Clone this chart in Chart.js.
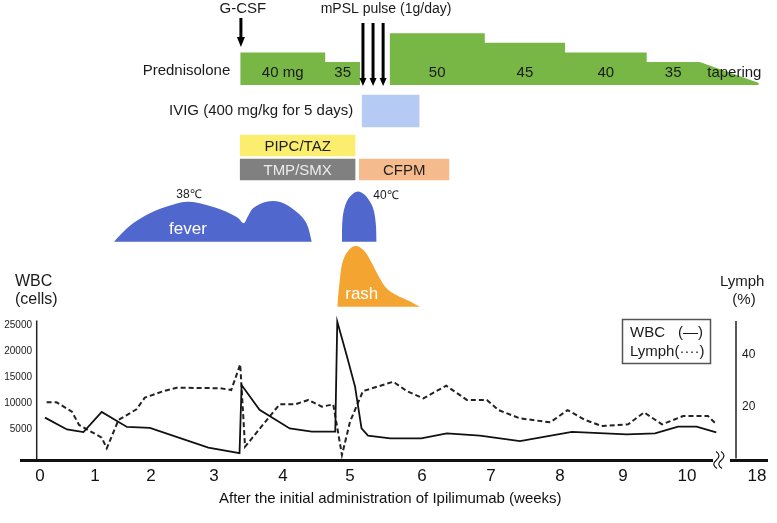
<!DOCTYPE html>
<html>
<head>
<meta charset="utf-8">
<script src="https://cdn.jsdelivr.net/npm/chart.js@4.4.1/dist/chart.umd.min.js"></script>
<style>
  html, body { margin: 0; padding: 0; background: #fff; }
  canvas { display: block; }
</style>
</head>
<body>
<canvas id="chart" width="777" height="523"></canvas>
<script>
// weeks after the first Ipilimumab dose
const tickWeeks = [0, 1, 2, 3, 4, 5, 6, 7, 8, 9, 10, 18];
const wbcTicks = [5000, 10000, 15000, 20000, 25000];
const lymphTicks = [20, 40];

// white blood cells (cells/uL)
const wbcWeeks = [0.09, 0.49, 0.79, 1.12, 1.57, 1.98, 2.91, 3.37, 3.40, 3.66,
  4.10, 4.43, 4.78, 4.81, 4.95, 5.07, 5.16, 5.25, 5.56, 5.99,
  6.36, 6.84, 7.42, 8.19, 9.06, 9.50, 9.86, 10.15, 10.46];
const wbcCount = [7200, 4900, 4400, 8300, 5400, 5200, 1400, 300, 13500, 8700,
  5100, 4500, 4500, 25800, 19300, 13200, 5100, 3700, 3200, 3200,
  4150, 3700, 2650, 4450, 3950, 4150, 5450, 5450, 4350];

// lymphocytes (%)
const lymphWeeks = [0.12, 0.30, 0.58, 0.71, 1.12, 1.21, 1.42, 1.74, 1.89, 2.20,
  2.41, 3.09, 3.25, 3.38, 3.45, 3.95, 4.18, 4.38, 4.58, 4.75,
  4.88, 5.00, 5.18, 5.60, 5.79, 6.02, 6.35, 6.65, 6.94, 7.11,
  7.42, 7.86, 8.12, 8.40, 8.66, 9.08, 9.33, 9.61, 9.94, 10.33, 10.46];
const lymphPct = [21.7, 21.7, 18.1, 13.0, 8.1, 4.0, 14.9, 19.0, 23.5, 26.0,
  27.3, 27.1, 26.4, 36.3, 4.6, 20.9, 20.9, 22.6, 20.0, 20.9,
  1.4, 14.2, 26.0, 29.6, 26.0, 23.2, 28.1, 22.6, 22.6, 18.7,
  15.5, 14.0, 18.7, 14.9, 12.6, 13.2, 17.8, 13.2, 16.4, 16.4, 13.3];

// prednisolone (mg/day)
const predStart = [3.38, 4.63, 5.55, 6.91, 8.08, 9.37];
const predEnd = [4.63, 5.14, 6.91, 8.08, 9.37, 10.20];
const predDose = [40, 35, 50, 45, 40, 35];
const taperEndWeek = 19.7;

const gcsfWeek = 3.39;
const mpslWeeks = [5.18, 5.32, 5.46];

const ivigStart = 5.17, ivigEnd = 5.96;
const drugNames = ['PIPC/TAZ', 'TMP/SMX', 'CFPM'];
const drugStart = [3.38, 3.38, 5.13];
const drugEnd = [5.07, 5.07, 6.39];

// body temperature (deg C), null = afebrile gap
const feverWeeks = [1.34, 1.45, 1.68, 1.98, 2.25, 2.57, 2.88, 3.18, 3.35, 3.43, 3.49, 3.57,
  3.76, 3.96, 4.20, 4.35, 4.43, 4.65, 4.88, 4.89, 4.95, 5.05, 5.13, 5.23, 5.32, 5.36, 5.37];
const feverTemp = [37.0, 37.17, 37.46, 37.71, 37.88, 38.0, 37.92, 37.75, 37.59, 37.46, 37.63, 37.84,
  38.0, 37.99, 37.75, 37.46, 37.0, null, 37.0, 37.59, 38.0, 39.68, 40.0, 39.0, 37.84, 37.42, 37.0];

// rash intensity (relative)
const rashWeeks = [4.81, 4.84, 4.89, 4.98, 5.08, 5.19, 5.28, 5.39, 5.51, 5.65, 5.83, 5.97];
const rashLevel = [0, 0.36, 0.74, 0.93, 1.0, 0.93, 0.77, 0.52, 0.30, 0.19, 0.09, 0];

// ---- layout: value -> canvas pixel anchors for each scale ----
const anchors = {
  x: [[0, 40], [1, 95], [2, 151], [3, 214], [4, 283], [5, 350], [6, 422], [7, 491],
      [8, 560], [9, 623], [10, 687], [10.55, 722], [18, 757]],
  wbc: [[0, 454.8], [25000, 325.7]],
  lymph: [[0, 458.7], [40, 354.7]],
  pred: [[0, 85], [35, 62], [50, 33.3]],
  rows: [[0, 111], [1, 145.5], [2, 169.5]],
  fever: [[37, 241.7], [38, 201.7], [40, 191.7]],
  rash: [[0, 306.7], [1, 246]]
};
const drugLane = [1, 2, 2];
const drugColor = ['#fbee6f', '#808080', '#f6bb8c'];
const drugText = ['#1e1e1e', '#ececec', '#1e1e1e'];
const SANS = "'Liberation Sans', Arial, sans-serif";
const NARROW = "'Liberation Sans Narrow', 'Arial Narrow', 'Liberation Sans', sans-serif";

class AnchorScale extends Chart.LinearScale {
  getPixelForValue(value) {
    if (value === null || value === undefined || isNaN(value)) return NaN;
    const a = anchors[this.id];
    let i = 1;
    while (i < a.length - 1 && value > a[i][0]) i++;
    const [v0, p0] = a[i - 1], [v1, p1] = a[i];
    return p0 + (value - v0) * (p1 - p0) / (v1 - v0);
  }
  getValueForPixel(pixel) {
    const a = anchors[this.id];
    const up = a[a.length - 1][1] > a[0][1];
    let i = 1;
    while (i < a.length - 1 && (up ? pixel > a[i][1] : pixel < a[i][1])) i++;
    const [v0, p0] = a[i - 1], [v1, p1] = a[i];
    return v0 + (pixel - p0) * (v1 - v0) / (p1 - p0);
  }
}
AnchorScale.id = 'anchor';
AnchorScale.defaults = Chart.LinearScale.defaults;
Chart.register(AnchorScale);

const zip = (xs, ys) => xs.map((x, i) => ({ x, y: ys[i] }));

// stepped prednisolone band, with a gap during the mPSL pulse
const predPoints = [];
predStart.forEach((s, i) => {
  if (i > 0 && s > predEnd[i - 1]) predPoints.push({ x: (s + predEnd[i - 1]) / 2, y: null });
  predPoints.push({ x: s, y: predDose[i] }, { x: predEnd[i], y: predDose[i] });
});
predPoints.push({ x: taperEndWeek, y: 0 });

function text(ctx, s, x, y, size, opt = {}) {
  ctx.save();
  ctx.font = (opt.weight || 'normal') + ' ' + size + 'px ' + (opt.family || SANS);
  ctx.fillStyle = opt.color || '#1a1a1a';
  ctx.textAlign = opt.align || 'center';
  ctx.textBaseline = 'middle';
  ctx.fillText(s, x, y);
  ctx.restore();
}

function arrow(ctx, x, y0, y1, headH, headW) {
  ctx.save();
  ctx.strokeStyle = ctx.fillStyle = '#000';
  ctx.lineWidth = 3;
  ctx.beginPath();
  ctx.moveTo(x, y0);
  ctx.lineTo(x, y1 - headH + 1);
  ctx.stroke();
  ctx.beginPath();
  ctx.moveTo(x - headW / 2, y1 - headH);
  ctx.lineTo(x + headW / 2, y1 - headH);
  ctx.lineTo(x, y1);
  ctx.closePath();
  ctx.fill();
  ctx.restore();
}

const decorations = {
  id: 'decorations',
  afterDatasetsDraw(chart) {
    const { ctx, scales } = chart;
    const px = v => scales.x.getPixelForValue(v);
    const bottom = chart.chartArea.bottom + 1.5;

    // y axes
    ctx.save();
    ctx.strokeStyle = '#222';
    ctx.lineWidth = 1.5;
    ctx.beginPath();
    ctx.moveTo(36.7, scales.wbc.getPixelForValue(26000));
    ctx.lineTo(36.7, bottom);
    ctx.moveTo(736, scales.lymph.getPixelForValue(53));
    ctx.lineTo(736, bottom - 2);
    ctx.stroke();

    // broken baseline
    ctx.lineWidth = 3;
    ctx.strokeStyle = '#111';
    ctx.beginPath();
    ctx.moveTo(20, bottom);
    ctx.lineTo(713, bottom);
    ctx.moveTo(730, bottom);
    ctx.lineTo(768, bottom);
    ctx.stroke();
    ctx.lineWidth = 1.2;
    [716, 721].forEach(bx => {
      ctx.beginPath();
      ctx.moveTo(bx, bottom - 9);
      ctx.quadraticCurveTo(bx + 6, bottom - 5, bx, bottom);
      ctx.quadraticCurveTo(bx - 5, bottom + 4, bx + 1, bottom + 8);
      ctx.stroke();
    });
    ctx.restore();

    wbcTicks.forEach(v => text(ctx, String(v), 32, scales.wbc.getPixelForValue(v), 10, { align: 'right' }));
    lymphTicks.forEach(v => text(ctx, String(v), 742, scales.lymph.getPixelForValue(v), 12, { align: 'left' }));

    text(ctx, 'WBC', 15, 282, 16, { align: 'left' });
    text(ctx, '(cells)', 15, 300, 16, { align: 'left' });
    text(ctx, 'Lymph', 720, 282, 15, { align: 'left' });
    text(ctx, '(%)', 744, 300, 15);

    // legend box
    ctx.save();
    ctx.strokeStyle = '#555';
    ctx.lineWidth = 1.5;
    ctx.strokeRect(622.5, 319.5, 88, 44);
    ctx.restore();
    text(ctx, 'WBC', 630, 333, 15, { align: 'left' });
    text(ctx, '(\u2014)', 678, 333, 15, { align: 'left' });
    text(ctx, 'Lymph(\u00b7\u00b7\u00b7\u00b7)', 630, 352, 15, { align: 'left' });

    // drugs and events above the chart
    const gx = px(gcsfWeek);
    text(ctx, 'G-CSF', gx + 2, 9, 15);
    arrow(ctx, gx, 18, 47, 10, 8);

    const mx = mpslWeeks.map(px);
    mx.forEach(x => arrow(ctx, x, 23, 86, 8, 7));
    text(ctx, 'mPSL pulse (1g/day)', mx.reduce((a, b) => a + b) / mx.length + 13, 9, 14);

    text(ctx, 'Prednisolone', px(predStart[0]) - 10, 71, 15, { align: 'right' });
    predDose.forEach((d, i) => {
      const cx = (px(predStart[i]) + px(predEnd[i])) / 2;
      text(ctx, i === 0 ? d + ' mg' : String(d), cx, 73, 15);
    });
    text(ctx, 'tapering', (px(predEnd[predEnd.length - 1]) + px(taperEndWeek)) / 2 + 2, 73, 15);

    const ivig = chart.getDatasetMeta(1).data[0];
    text(ctx, 'IVIG (400 mg/kg for 5 days)', Math.min(ivig.x, ivig.base) - 9, ivig.y, 15, { align: 'right' });
    chart.getDatasetMeta(2).data.forEach((bar, i) => {
      text(ctx, drugNames[i], (bar.x + bar.base) / 2, bar.y + 1, 15, { color: drugText[i] });
    });

    // fever labels at the peak of each febrile episode
    const gap = feverTemp.indexOf(null);
    const peak = (from, to) => {
      let k = from;
      for (let i = from; i < to; i++) if (feverTemp[i] > feverTemp[k]) k = i;
      return k;
    };
    const p1 = peak(0, gap), p2 = peak(gap + 1, feverTemp.length);
    const fy = t => scales.fever.getPixelForValue(t);
    text(ctx, feverTemp[p1].toFixed(0) + '\u2103', px(feverWeeks[p1]) + 2, fy(feverTemp[p1]) - 7, 12);
    text(ctx, feverTemp[p2].toFixed(0) + '\u2103', px(feverWeeks[p2]) + 14, fy(feverTemp[p2]) + 4, 12, { align: 'left' });
    text(ctx, 'fever', px(feverWeeks[p1]) + 1, fy(37) - 12, 17, { color: '#fff' });
    const rp = rashLevel.indexOf(Math.max(...rashLevel));
    text(ctx, 'rash', px(rashWeeks[rp]) + 6, scales.rash.getPixelForValue(0) - 12, 17, { color: '#fff' });
  }
};

Chart.defaults.font.family = SANS;
Chart.defaults.color = '#1a1a1a';

const hidden = axis => ({ type: 'anchor', axis, display: false });

new Chart(document.getElementById('chart'), {
  type: 'line',
  data: {
    datasets: [
      {
        label: 'Prednisolone', data: predPoints, yAxisID: 'pred',
        borderWidth: 0, pointRadius: 0, tension: 0,
        backgroundColor: '#78b746', fill: { value: 0 }, clip: false
      },
      {
        type: 'bar', label: 'IVIG', indexAxis: 'y', xAxisID: 'x', yAxisID: 'rows',
        data: [{ x: [ivigStart, ivigEnd], y: 0 }],
        backgroundColor: '#b5cbf3', barThickness: 32, grouped: false, clip: false
      },
      {
        type: 'bar', label: 'Antibiotics', indexAxis: 'y', xAxisID: 'x', yAxisID: 'rows',
        data: drugNames.map((n, i) => ({ x: [drugStart[i], drugEnd[i]], y: drugLane[i] })),
        backgroundColor: drugColor, barThickness: 21, grouped: false, clip: false
      },
      {
        label: 'fever', data: zip(feverWeeks, feverTemp), yAxisID: 'fever',
        borderWidth: 0, pointRadius: 0, tension: 0.35,
        backgroundColor: '#5068cd', fill: { value: 37 }, clip: false
      },
      {
        label: 'rash', data: zip(rashWeeks, rashLevel), yAxisID: 'rash',
        borderWidth: 0, pointRadius: 0, tension: 0.35,
        backgroundColor: '#f4a430', fill: { value: 0 }, clip: false
      },
      {
        label: 'WBC', data: zip(wbcWeeks, wbcCount), yAxisID: 'wbc',
        borderColor: '#111', borderWidth: 1.8, pointRadius: 0, tension: 0, fill: false
      },
      {
        label: 'Lymph', data: zip(lymphWeeks, lymphPct), yAxisID: 'lymph',
        borderColor: '#222', borderWidth: 2, borderDash: [5, 3], pointRadius: 0, tension: 0, fill: false
      }
    ]
  },
  options: {
    responsive: false,
    animation: false,
    layout: { padding: { left: 22, right: 0, top: 0, bottom: 0 } },
    plugins: { legend: { display: false }, tooltip: { enabled: false } },
    scales: {
      x: {
        type: 'anchor', position: 'bottom',
        afterFit: s => { s.height = 64; },
        afterBuildTicks: s => { s.ticks = tickWeeks.map(v => ({ value: v })); },
        grid: { display: false, drawTicks: false },
        border: { display: false },
        ticks: {
          autoSkip: false, maxRotation: 0, minRotation: 0, padding: 7,
          color: '#111', font: { size: 17, family: NARROW }, callback: v => String(v)
        },
        title: {
          display: true, text: 'After the initial administration of Ipilimumab (weeks)',
          color: '#111', font: { size: 15, family: NARROW }, padding: { top: 0, bottom: 15 }
        }
      },
      wbc: hidden('y'),
      lymph: hidden('y'),
      pred: hidden('y'),
      rows: hidden('y'),
      fever: hidden('y'),
      rash: hidden('y')
    }
  },
  plugins: [decorations]
});
</script>
</body>
</html>
